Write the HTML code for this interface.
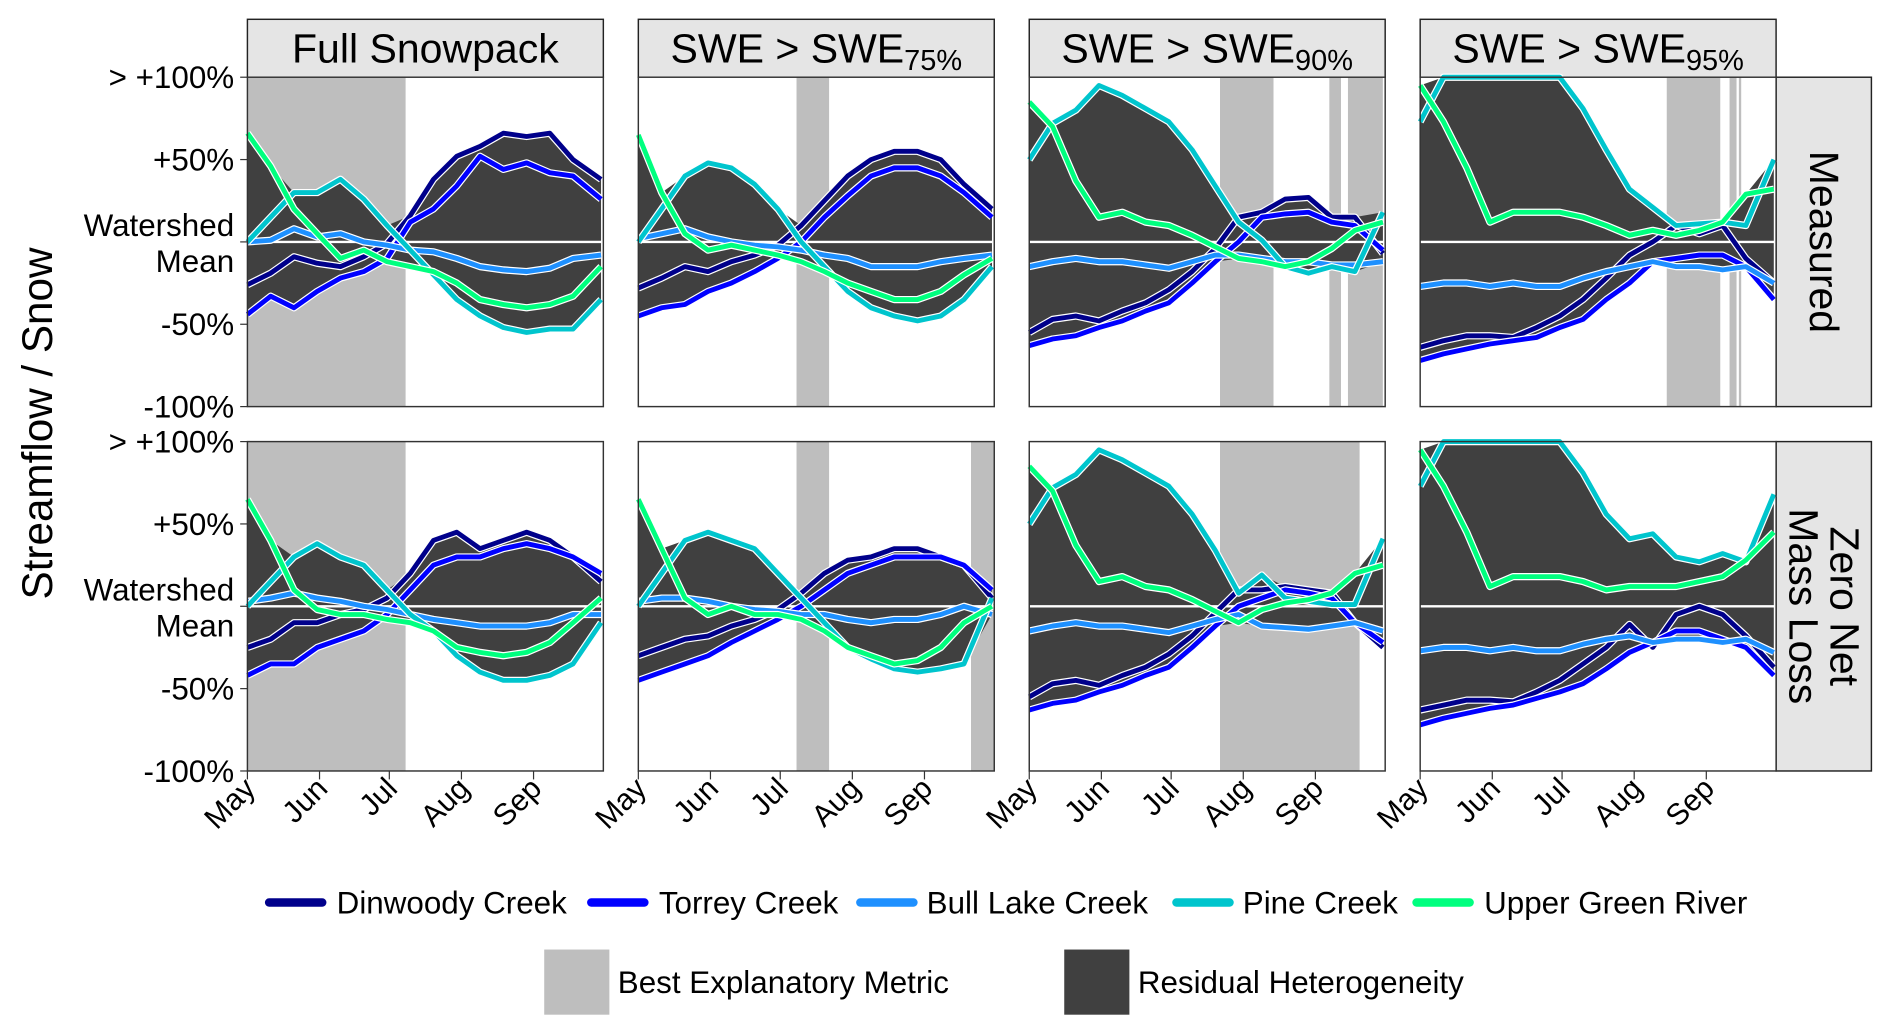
<!DOCTYPE html>
<html><head><meta charset="utf-8"><style>
html,body{margin:0;padding:0;background:#fff;}
svg{display:block;font-family:"Liberation Sans",Arial,sans-serif;}
</style></head><body>
<svg id="fig" width="1892" height="1034" viewBox="0 0 1568 857" xmlns="http://www.w3.org/2000/svg">
<text x="0" y="0" transform="translate(43,351) rotate(-90)" text-anchor="middle" font-size="35">Streamflow / Snow</text>
<g id="plot"></g>
<g>
 <g><line x1="223" y1="748" x2="267" y2="748" stroke="#00008b" stroke-width="7" stroke-linecap="round"/><text x="279" y="757" font-size="26">Dinwoody Creek</text></g>
 <g><line x1="490" y1="748" x2="534" y2="748" stroke="#0000ff" stroke-width="7" stroke-linecap="round"/><text x="546" y="757" font-size="26">Torrey Creek</text></g>
 <g><line x1="713" y1="748" x2="757" y2="748" stroke="#1e90ff" stroke-width="7" stroke-linecap="round"/><text x="768" y="757" font-size="26">Bull Lake Creek</text></g>
 <g><line x1="975" y1="748" x2="1019" y2="748" stroke="#00c5cd" stroke-width="7" stroke-linecap="round"/><text x="1030" y="757" font-size="26">Pine Creek</text></g>
 <g><line x1="1174" y1="748" x2="1218" y2="748" stroke="#00ff7f" stroke-width="7" stroke-linecap="round"/><text x="1230" y="757" font-size="26">Upper Green River</text></g>
 <g><rect x="451" y="787" width="54" height="54" fill="#bebebe"/><text x="512" y="823" font-size="26">Best Explanatory Metric</text></g>
 <g><rect x="882" y="787" width="54" height="54" fill="#404040"/><text x="943" y="823" font-size="26">Residual Heterogeneity</text></g>
</g>
</svg>
<script>
const DAYS=[0,10,20,30,40,50,60,70,80,90,100,110,120,130,140,152];
const SERIES=["dinwoody","torrey","bull-lake","pine","upper-green"];
const COLORS=["#00008b","#0000ff","#1e90ff","#00c5cd","#00ff7f"];
const COL_TITLES=["Full Snowpack","SWE > SWE","SWE > SWE","SWE > SWE"];
const COL_SUBS=["","75%","90%","95%"];
const MONTHS=["May","Jun","Jul","Aug","Sep"];
const MONTH_DAYS=[0,31,61,92,123];
const YTICKS=[100,50,0,-50,-100];
const YLABELS=["> +100%","+50%","","-50%","-100%"];
// r1c1..r1c4
const din1=[-26,-19,-9,-13,-15,-9,-1,16,38,52,58,66,64,66,50,38];
const tor1=[-44,-33,-40,-30,-22,-18,-10,12,20,34,52,44,48,42,40,26];
const bul1=[0,1,8,3,5,0,-2,-5,-6,-10,-15,-17,-18,-16,-10,-8];
const pin1=[0,15,30,30,38,26,10,-5,-20,-35,-45,-52,-55,-53,-53,-35];
const grn1=[66,46,20,5,-10,-5,-12,-15,-18,-25,-35,-38,-40,-38,-33,-15];
const din2=[-28,-22,-15,-18,-12,-8,-2,10,25,40,50,55,55,50,35,20];
const tor2=[-45,-40,-38,-30,-25,-18,-10,0,15,28,40,45,45,40,30,15];
const bul2=[2,5,8,3,0,-2,-3,-5,-8,-10,-15,-15,-15,-12,-10,-8];
const pin2=[0,20,40,48,45,35,20,0,-15,-30,-40,-45,-48,-45,-35,-15];
const grn2=[65,30,5,-5,-2,-5,-8,-12,-18,-25,-30,-35,-35,-30,-20,-10];
const din3=[-55,-47,-45,-48,-42,-37,-29,-18,-4,15,18,26,27,15,15,-7];
const tor3=[-63,-59,-57,-52,-48,-42,-37,-25,-12,0,15,17,18,12,10,-5];
const bul3=[-15,-12,-10,-12,-12,-14,-16,-12,-8,-8,-10,-12,-12,-14,-14,-12];
const pin3=[50,72,80,95,89,81,73,56,34,12,1,-15,-19,-15,-18,18];
const grn3=[85,70,37,15,18,12,10,4,-3,-10,-12,-15,-12,-4,7,12];
const din4=[-64,-60,-57,-57,-58,-52,-45,-35,-22,-8,0,10,5,10,-10,-25];
const tor4=[-72,-68,-65,-62,-60,-58,-52,-47,-35,-25,-12,-10,-8,-8,-15,-35];
const bul4=[-27,-25,-25,-27,-25,-27,-27,-22,-18,-15,-12,-15,-15,-17,-15,-25];
const pin4=[73,100,100,100,100,100,100,81,56,32,21,10,11,12,10,50];
const grn4=[95,73,45,12,18,18,18,15,10,4,7,4,7,12,29,32];
// r2c1..r2c4
const din5=[-25,-20,-10,-10,-5,-2,5,20,40,45,35,40,45,40,30,15];
const tor5=[-42,-35,-35,-25,-20,-15,-5,10,25,30,30,35,38,35,30,20];
const bul5=[3,5,8,5,3,0,-2,-5,-8,-10,-12,-12,-12,-10,-5,-5];
const pin5=[0,15,30,38,30,25,10,-5,-15,-30,-40,-45,-45,-42,-35,-10];
const grn5=[65,40,10,-2,-5,-5,-8,-10,-15,-25,-28,-30,-28,-22,-10,5];
const din6=[-30,-25,-20,-18,-12,-8,-2,8,20,28,30,35,35,30,25,5];
const tor6=[-45,-40,-35,-30,-22,-15,-8,0,10,20,25,30,30,30,25,10];
const bul6=[3,5,5,3,0,-2,-3,-5,-5,-8,-10,-8,-8,-5,0,-5];
const pin6=[0,20,40,45,40,35,20,5,-10,-25,-32,-38,-40,-38,-35,5];
const grn6=[65,35,5,-5,0,-5,-5,-8,-15,-25,-30,-35,-33,-25,-10,0];
const din7=[-55,-47,-45,-48,-42,-37,-29,-18,-4,10,10,12,10,8,-10,-25];
const tor7=[-63,-59,-57,-52,-48,-42,-37,-25,-12,0,5,10,8,5,-10,-22];
const bul7=[-15,-12,-10,-12,-12,-14,-16,-12,-8,-5,-12,-13,-14,-12,-10,-15];
const pin7=[50,72,80,95,89,81,73,56,34,8,19,5,3,1,1,41];
const grn7=[85,70,37,15,18,12,10,4,-3,-10,-2,2,4,8,20,25];
const din8=[-63,-60,-57,-57,-58,-52,-45,-35,-25,-11,-25,-5,0,-5,-18,-37];
const tor8=[-72,-68,-65,-62,-60,-56,-52,-47,-38,-28,-22,-15,-15,-20,-25,-42];
const bul8=[-27,-25,-25,-27,-25,-27,-27,-23,-20,-18,-22,-20,-20,-22,-20,-28];
const pin8=[73,100,100,100,100,100,100,81,56,41,44,30,27,32,27,68];
const grn8=[95,73,45,12,18,18,18,15,10,12,12,12,15,18,28,45];
const SHADE_R1=[[[0,68]],[[68,82]],[[82,105],[129,134],[137,152]],[[106,129],[133,136],[137,138]]];
const SHADE_R2=[[[0,68]],[[68,82],[143,153]],[[82,142]],[]];
const PANEL_DATA=[[din1,tor1,bul1,pin1,grn1],[din2,tor2,bul2,pin2,grn2],[din3,tor3,bul3,pin3,grn3],[din4,tor4,bul4,pin4,grn4],
[din5,tor5,bul5,pin5,grn5],[din6,tor6,bul6,pin6,grn6],[din7,tor7,bul7,pin7,grn7],[din8,tor8,bul8,pin8,grn8]];

const NS="http://www.w3.org/2000/svg";
const plot=document.getElementById("plot");
const COLX=[205,529,853,1177], PW=295, ROWY=[64,366], PH=273, NDAYS=153;
function mk(tag,attrs,parent){const e=document.createElementNS(NS,tag);for(const k in attrs)e.setAttribute(k,attrs[k]);(parent||plot).appendChild(e);return e;}
function xs(c,d){return COLX[c]+d/NDAYS*PW;}
function ys(r,v){v=Math.max(-100,Math.min(100,v));return ROWY[r]+(100-v)/200*PH;}

for(let c=0;c<4;c++){
  const st=mk("g",{});
  
  
  mk("rect",{x:COLX[c],y:16,width:PW,height:48,fill:"#e5e5e5",stroke:"#222","stroke-width":1.2},st);
  const t=mk("text",{x:COLX[c]+PW/2,y:52,"text-anchor":"middle","font-size":34},st);
  t.textContent=COL_TITLES[c];
  if(COL_SUBS[c]){const s=mk("tspan",{"font-size":24,dy:6},t);s.textContent=COL_SUBS[c];}
}
const ROW_TITLES=[["Measured"],["Zero Net","Mass Loss"]];
for(let r=0;r<2;r++){
  const g=mk("g",{});
  
  
  mk("rect",{x:1472,y:ROWY[r],width:79,height:PH,fill:"#e5e5e5",stroke:"#222","stroke-width":1.2},g);
  const lines=ROW_TITLES[r];
  lines.forEach((ln,i)=>{
    const off=(i-(lines.length-1)/2)*34;
    const t=mk("text",{transform:`translate(${1500-off},${ROWY[r]+PH/2}) rotate(90)`,"text-anchor":"middle","font-size":34},g);
    t.textContent=ln;
  });
}
for(let r=0;r<2;r++){
  for(let c=0;c<4;c++){
    const data=PANEL_DATA[r*4+c];
    const g=mk("g",{});
    
    
    mk("rect",{x:COLX[c],y:ROWY[r],width:PW,height:PH,fill:"#fff"},g);
    const sh=(r===0?SHADE_R1:SHADE_R2)[c];
    sh.forEach(s=>{
      const rc=mk("rect",{x:xs(c,s[0]),y:ROWY[r],width:xs(c,s[1])-xs(c,s[0]),height:PH,fill:"#bebebe"},g);
      
      
    });
    let top=[],bot=[];
    DAYS.forEach((d,i)=>{
      const vals=data.map(a=>a[i]);
      top.push([xs(c,d),ys(r,Math.max(...vals))]);
      bot.push([xs(c,d),ys(r,Math.min(...vals))]);
    });
    const pts=top.concat(bot.reverse()).map(p=>p[0].toFixed(1)+","+p[1].toFixed(1)).join(" ");
    const band=mk("polygon",{points:pts,fill:"#404040"},g);
    
    
    mk("line",{x1:COLX[c],x2:COLX[c]+PW,y1:ys(r,0),y2:ys(r,0),stroke:"#fff","stroke-width":2},g);
    data.forEach((arr,si)=>{
      const p=DAYS.map((d,i)=>xs(c,d).toFixed(1)+","+ys(r,arr[i]).toFixed(1)).join(" ");
      mk("polyline",{points:p,fill:"none",stroke:"#fff","stroke-width":6,"stroke-linejoin":"round"},g);
      const l=mk("polyline",{points:p,fill:"none",stroke:COLORS[si],"stroke-width":4,"stroke-linejoin":"round"},g);
      
      
    });
    mk("rect",{x:COLX[c],y:ROWY[r],width:PW,height:PH,fill:"none",stroke:"#333","stroke-width":1.2},g);
  }
  YTICKS.forEach((v,i)=>{
    const y=ys(r,v);
    mk("line",{x1:199,x2:205,y1:y,y2:y,stroke:"#333","stroke-width":1});
    if(YLABELS[i]){
      const t=mk("text",{x:194,y:y+9,"text-anchor":"end","font-size":26});
      
      
      t.textContent=YLABELS[i];
    }else{
      const t1=mk("text",{x:194,y:y-5,"text-anchor":"end","font-size":26});t1.textContent="Watershed";
      
      
      const t2=mk("text",{x:194,y:y+25,"text-anchor":"end","font-size":26});t2.textContent="Mean";
      
      
    }
  });
}
for(let c=0;c<4;c++){
  MONTH_DAYS.forEach((d,i)=>{
    const x=xs(c,d), y=ROWY[1]+PH;
    mk("line",{x1:x,x2:x,y1:y,y2:y+7,stroke:"#333","stroke-width":1});
    const t=mk("text",{transform:`translate(${x+8},${y+16}) rotate(-45)`,"text-anchor":"end","font-size":25});
    
    
    t.textContent=MONTHS[i];
  });
}
</script>
</body></html>
